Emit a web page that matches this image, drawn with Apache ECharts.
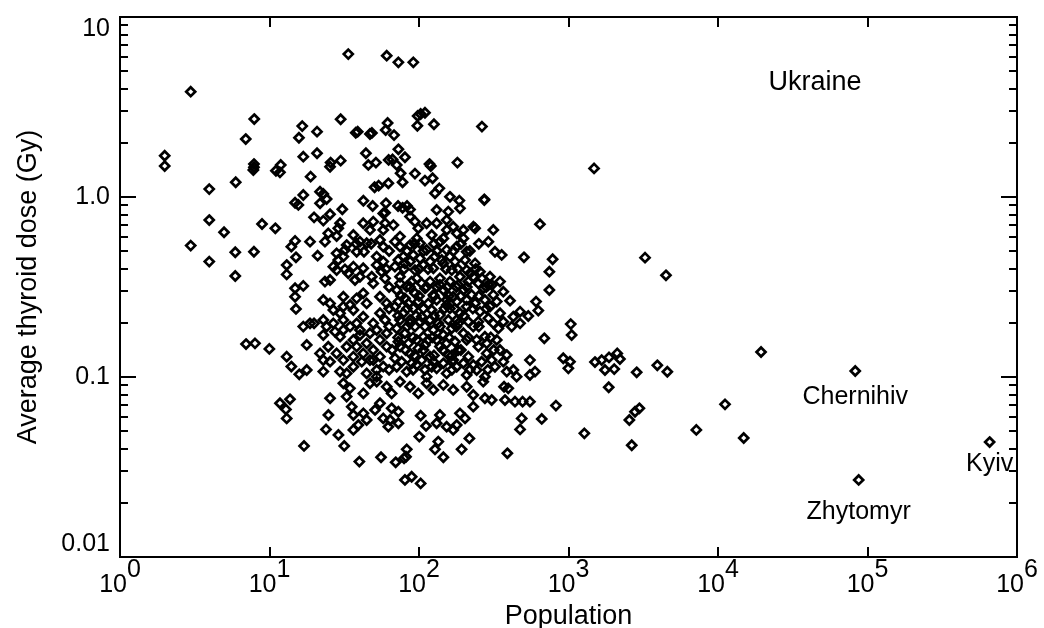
<!DOCTYPE html>
<html>
<head>
<meta charset="utf-8">
<title>Ukraine thyroid dose</title>
<script src="https://cdn.jsdelivr.net/npm/echarts@6/dist/echarts.min.js"></script>
<style>
  html, body { margin: 0; padding: 0; background: #fff; }
  #chart { width: 1044px; height: 628px; }
</style>
</head>
<body>
<div id="chart"></div>
<script>
// settlements, stored as [log10 population, log10 dose (Gy)]
var logPoints = [
  [1.527,0.794],[1.784,0.785],[0.473,0.585],[0.898,0.433],[0.841,0.322],[1.219,0.394],[1.197,0.329],[1.318,0.363],
  [1.476,0.432],[1.577,0.357],[1.590,0.363],[1.672,0.350],[1.685,0.356],[1.777,0.372],[1.790,0.411],[0.299,0.229],
  [0.299,0.172],[0.597,0.044],[0.774,0.082],[0.896,0.183],[0.896,0.165],[0.892,0.150],[1.043,0.146],[1.075,0.178],
  [1.070,0.137],[1.226,0.224],[1.318,0.243],[1.476,0.202],[1.409,0.191],[1.405,0.168],[1.645,0.243],[1.661,0.178],
  [1.712,0.191],[1.797,0.206],[1.275,0.113],[1.703,0.054],[1.730,0.063],[1.795,0.076],[1.226,0.011],[1.171,-0.032],
  [1.193,-0.044],[1.338,0.029],[1.360,0.017],[1.382,-0.011],[1.338,-0.035],[1.487,-0.068],[1.628,-0.021],[1.690,-0.050],
  [1.779,-0.035],
  [1.862,0.748],[1.962,0.748],[1.833,0.344],[1.991,0.450],[2.011,0.461],[2.040,0.468],[1.989,0.396],[2.100,0.404],
  [2.421,0.391],[1.823,0.209],[1.862,0.265],[1.906,0.221],[1.851,0.178],[1.877,0.132],[1.973,0.130],[2.070,0.183],
  [2.079,0.172],[2.257,0.191],[2.040,0.091],[2.091,0.104],[2.107,0.021],[2.136,0.048],[2.207,0.001],[2.270,-0.020],
  [2.437,-0.017],[1.890,0.082],[1.860,-0.050],[1.890,-0.060],[1.920,-0.050],[1.940,-0.070],[3.171,0.159],
  [3.512,-0.337],[3.652,-0.435],[4.288,-0.861],[3.177,-0.917],[3.222,-0.906],[3.271,-0.891],[3.326,-0.869],[3.344,-0.900],
  [3.244,-0.961],[3.306,-0.956],[3.594,-0.935],[3.661,-0.971],[3.456,-0.974],[3.269,-1.057],[3.407,-1.239],[3.445,-1.193],
  [3.474,-1.174],[3.423,-1.379],[3.106,-1.313],[3.855,-1.294],[4.047,-1.152],[4.172,-1.339],
  [0.597,-0.128],[0.473,-0.270],[0.597,-0.359],[0.696,-0.196],[0.771,-0.307],[0.771,-0.439],[0.896,-0.304],[0.950,-0.150],
  [1.039,-0.174],[0.843,-0.817],[0.903,-0.813],[0.999,-0.844],[1.115,-0.887],[1.146,-0.942],[1.199,-0.985],[1.249,-0.961],
  [1.773,-0.087],[1.298,-0.113],[1.360,-0.131],[1.405,-0.096],[1.472,-0.146],[1.460,-0.174],[1.627,-0.146],[1.694,-0.137],
  [1.672,-0.183],[1.761,-0.091],[1.773,-0.146],[1.761,-0.183],
  [1.171,-0.244],[1.146,-0.276],[1.177,-0.335],[1.271,-0.248],[1.322,-0.326],[1.371,-0.248],[1.393,-0.202],[1.449,-0.217],
  [1.115,-0.378],[1.115,-0.430],[1.449,-0.313],[1.460,-0.350],[1.505,-0.294],[1.516,-0.267],[1.561,-0.211],[1.605,-0.248],
  [1.583,-0.304],[1.632,-0.304],[1.427,-0.387],[1.449,-0.406],[1.505,-0.402],[1.405,-0.461],[1.371,-0.470],[1.171,-0.507],
  [1.226,-0.494],[1.171,-0.554],[1.177,-0.622],[1.527,-0.424],[1.572,-0.461],[1.627,-0.396],[1.684,-0.443],[1.717,-0.378],
  [1.750,-0.415],[1.773,-0.452],[1.761,-0.359],[1.627,-0.535],[1.583,-0.563],[1.494,-0.554],[1.539,-0.600],[1.360,-0.572],
  [1.405,-0.591],[1.427,-0.628],[1.472,-0.646],[1.226,-0.720],[1.271,-0.702],[1.298,-0.702],[1.360,-0.767],[1.438,-0.748],
  [1.249,-0.822],[1.338,-0.869],[1.393,-0.832],[1.360,-0.906],[1.405,-0.915],
  [1.494,-0.683],[1.539,-0.720],[1.583,-0.702],[1.627,-0.665],[1.694,-0.702],[1.739,-0.646],[1.773,-0.683],
  [1.472,-0.776],[1.516,-0.832],[1.561,-0.794],[1.605,-0.767],[1.650,-0.813],[1.694,-0.850],[1.739,-0.794],
  [1.449,-0.869],[1.494,-0.906],[1.561,-0.887],[1.617,-0.915],[1.672,-0.906],[1.739,-0.887],[1.761,-0.942],[1.717,-0.961],
  [1.650,-0.980],[1.472,-0.970],[1.516,-0.980],[1.360,-0.970],[1.761,-0.276],[1.717,-0.331],[1.739,-0.239],[1.650,-0.257],
  [1.494,-0.331],[1.561,-0.387],[1.605,-0.443],[1.694,-0.480],[1.739,-0.554],[1.784,-0.591],[1.650,-0.591],[1.561,-0.628],
  [1.494,-0.609],[1.605,-0.739],[1.672,-0.757],[1.717,-0.739],[1.784,-0.757],[1.583,-0.831],[1.627,-0.869],[1.694,-0.906],
  [1.784,-0.831],[1.427,-0.702],[1.494,-0.739],[1.561,-0.943],[1.717,-0.998],[1.360,-0.683],[1.382,-0.720],
  [2.437,-0.013],[2.809,-0.151],[2.702,-0.335],[2.894,-0.346],[2.872,-0.415],[2.872,-0.517],[2.609,-0.576],[2.783,-0.581],
  [2.798,-0.631],[3.015,-0.706],[3.021,-0.767],[2.838,-0.785],[2.731,-0.661],[2.676,-0.702],[2.965,-0.896],[3.010,-0.915],
  [2.999,-0.952],[2.742,-0.906],[2.776,-0.970],[2.631,-0.961],[2.542,-0.470],[2.487,-0.489],[2.420,-0.452],[2.363,-0.443],
  [2.319,-0.406],[2.497,-0.183],[2.464,-0.248],[2.508,-0.304],[2.553,-0.322],[2.375,-0.174],[2.297,-0.230],[2.253,-0.202],
  [2.186,-0.183],[2.118,-0.072],[2.196,-0.081],[2.274,-0.063],[1.829,-0.156],
  [1.940,-0.109],[1.973,-0.137],[1.995,-0.174],[2.051,-0.146],[2.118,-0.146],[2.185,-0.128],[2.229,-0.165],[2.297,-0.183],
  [2.364,-0.165],
  [1.839,-0.248],[1.873,-0.276],[1.940,-0.267],[2.007,-0.257],[2.051,-0.294],[2.140,-0.248],[2.185,-0.294],[2.252,-0.276],
  [2.319,-0.304],[2.207,-0.331],[2.107,-0.331],[1.962,-0.322],[1.895,-0.331],
  [1.839,-0.387],[1.906,-0.369],[1.973,-0.406],[2.029,-0.378],[2.096,-0.396],[2.163,-0.369],[2.219,-0.406],[2.274,-0.443],
  [2.341,-0.424],[2.408,-0.415],[2.475,-0.443],[1.985,-0.452],[1.873,-0.443],[2.140,-0.452],
  [1.851,-0.517],[1.918,-0.498],[1.973,-0.535],[2.040,-0.507],[2.096,-0.544],[2.163,-0.517],[2.229,-0.554],[2.297,-0.517],
  [2.352,-0.544],[2.430,-0.507],[2.497,-0.544],[2.564,-0.526],[1.906,-0.563],[2.185,-0.572],
  [1.839,-0.609],[1.895,-0.646],[1.962,-0.619],[2.018,-0.665],[2.085,-0.628],[2.140,-0.656],[2.207,-0.619],[2.274,-0.646],
  [2.319,-0.609],[2.408,-0.637],[2.475,-0.609],[2.542,-0.646],[2.631,-0.665],[2.676,-0.637],[1.940,-0.683],[2.252,-0.683],
  [1.851,-0.730],[1.906,-0.757],[1.973,-0.720],[2.029,-0.776],[2.096,-0.739],[2.163,-0.767],[2.219,-0.730],[2.297,-0.757],
  [2.363,-0.720],[2.441,-0.776],[2.497,-0.702],[2.564,-0.693],[2.620,-0.720],[2.062,-0.794],[2.319,-0.794],
  [1.873,-0.831],[1.940,-0.869],[1.995,-0.841],[2.074,-0.887],[2.140,-0.831],[2.196,-0.878],[2.263,-0.850],[2.330,-0.887],
  [2.397,-0.831],[2.453,-0.869],[2.542,-0.850],[2.587,-0.878],[1.839,-0.896],[2.229,-0.906],[2.096,-0.915],
  [1.851,-0.943],[1.918,-0.970],[1.985,-0.933],[2.051,-0.998],[2.118,-0.952],[2.185,-0.980],[2.252,-0.943],[2.319,-0.989],
  [2.386,-0.961],[2.441,-0.998],[2.508,-0.943],[2.587,-0.970],[2.653,-0.998],[2.742,-0.989],
  [1.873,-0.220],[1.985,-0.230],[2.085,-0.211],[2.163,-0.230],
  [1.862,-0.350],[1.940,-0.359],[2.007,-0.341],[2.074,-0.359],[2.152,-0.350],[2.241,-0.359],[2.308,-0.350],[2.375,-0.369],
  [1.873,-0.480],[1.951,-0.470],[2.018,-0.480],[2.074,-0.470],[2.140,-0.489],[2.207,-0.470],[2.263,-0.489],[2.330,-0.470],
  [2.397,-0.480],[2.464,-0.489],
  [1.862,-0.581],[1.929,-0.591],[1.995,-0.581],[2.062,-0.591],[2.118,-0.572],[2.185,-0.600],[2.252,-0.581],[2.319,-0.572],
  [2.375,-0.591],[2.441,-0.572],[2.520,-0.581],
  [1.873,-0.683],[1.940,-0.702],[2.007,-0.693],[2.074,-0.683],[2.129,-0.702],[2.196,-0.683],[2.263,-0.702],[2.330,-0.693],
  [2.397,-0.693],[2.464,-0.674],[2.531,-0.730],
  [1.862,-0.804],[1.929,-0.813],[1.985,-0.794],[2.040,-0.822],[2.118,-0.794],[2.185,-0.813],[2.241,-0.804],[2.386,-0.794],
  [2.453,-0.813],[2.520,-0.794],
  [1.884,-0.915],[1.951,-0.924],[2.018,-0.906],[2.085,-0.943],[2.163,-0.924],[2.219,-0.915],[2.297,-0.924],[2.363,-0.933],
  [2.419,-0.915],[2.486,-0.906],[2.564,-0.915],
  [1.405,-1.118],[1.394,-1.211],[1.378,-1.291],[1.461,-1.322],[1.500,-1.383],[1.231,-1.383],[1.516,-1.109],[1.550,-1.165],
  [1.561,-1.211],[1.594,-1.267],[1.561,-1.294],[1.628,-1.202],[1.650,-1.239],[1.706,-1.183],[1.739,-1.146],[1.761,-1.230],
  [1.795,-1.276],[1.817,-1.174],[1.862,-1.193],[1.862,-1.257],[1.806,-1.239],[1.601,-1.470],[1.746,-1.446],[1.844,-1.474],
  [1.918,-1.402],[1.913,-1.443],[1.900,-1.452],[2.002,-1.331],[2.011,-1.215],[2.047,-1.272],[2.140,-1.211],[2.129,-1.359],
  [2.107,-1.402],[2.163,-1.446],[2.118,-1.257],[2.185,-1.276],[2.229,-1.294],[2.252,-1.267],[2.274,-1.202],[2.308,-1.230],
  [2.285,-1.402],[2.337,-1.341],[1.906,-1.572],[1.951,-1.554],[2.011,-1.591],[2.363,-1.165],[2.441,-1.118],[2.486,-1.128],
  [2.575,-1.128],[2.642,-1.137],[2.693,-1.137],[2.742,-1.137],[2.569,-1.054],[2.597,-1.063],[2.687,-1.230],[2.676,-1.291],
  [2.821,-1.233],[2.916,-1.159],[2.591,-1.424],
  [1.494,-1.035],[1.538,-1.063],[1.628,-1.091],[1.672,-1.035],[1.717,-1.026],[1.784,-1.054],[1.817,-1.091],[1.873,-1.026],
  [1.940,-1.054],[1.995,-1.091],[2.051,-1.035],[2.096,-1.072],[2.163,-1.044],[2.229,-1.072],[2.319,-1.054],[2.363,-1.100],
  [2.430,-1.026],
  [1.070,-1.146],[1.137,-1.124],[1.110,-1.180],[1.115,-1.230],
  // core of the cloud, where single marks cannot be told apart
  [1.80,-0.30],[1.92,-0.30],[2.03,-0.30],[2.12,-0.30],[2.23,-0.30],[2.34,-0.30],
  [1.78,-0.40],[1.90,-0.40],[2.00,-0.40],[2.06,-0.40],[2.18,-0.40],[2.26,-0.40],[2.38,-0.40],
  [1.80,-0.50],[1.94,-0.50],[2.05,-0.50],[2.12,-0.50],[2.19,-0.50],[2.25,-0.50],[2.32,-0.50],[2.45,-0.50],
  [1.88,-0.55],[2.00,-0.55],[2.10,-0.55],[2.20,-0.55],[2.28,-0.55],[2.40,-0.55],
  [1.80,-0.62],[1.92,-0.62],[2.03,-0.62],[2.17,-0.62],[2.24,-0.62],[2.36,-0.62],[2.45,-0.62],
  [1.86,-0.66],[1.98,-0.66],[2.10,-0.66],[2.30,-0.66],
  [1.80,-0.72],[1.92,-0.72],[2.04,-0.72],[2.14,-0.72],[2.25,-0.72],[2.40,-0.72],
  [1.86,-0.78],[1.96,-0.78],[2.09,-0.78],[2.20,-0.78],[2.33,-0.78],[2.48,-0.78],
  [1.82,-0.85],[1.91,-0.85],[2.03,-0.85],[2.16,-0.85],[2.28,-0.85],[2.50,-0.85],
  [1.97,-0.88],[2.10,-0.88],[2.22,-0.88],
  [1.80,-0.96],[1.96,-0.96],[2.04,-0.96],[2.22,-0.96],[2.34,-0.96],[2.46,-0.96],
  [1.58,-0.26],[1.68,-0.26],[1.97,-0.26],[2.10,-0.26],[2.28,-0.26],[2.40,-0.26]
];

// labelled oblast centres
var townNames = ['Chernihiv', 'Zhytomyr', 'Kyiv'];
var townPop = [82800, 87300, 656000];
var townDose = [0.108, 0.0268, 0.0435];

// panel caption and where its centre sits, in data units
var panelTitle = 'Ukraine';
var panelTitleAt = [44600, 4.35];

var xTickExps = [0, 1, 2, 3, 4, 5, 6];
var yTickValues = [0.01, 0.1, 1, 10];
var yTickLabels = ['0.01', '0.1', '1.0', '10'];

var FONT = 'Liberation Sans, Arial, Helvetica, sans-serif';

var xTicks = [];
for (var i = 0; i < xTickExps.length; i++) xTicks.push(Math.pow(10, xTickExps[i]));
var yMinor = [];
for (var d = -2; d < 1; d++) {
    for (var k = 2; k <= 9; k++) yMinor.push(k * Math.pow(10, d));
}

var pts = [];
for (var i = 0; i < logPoints.length; i++) {
    pts.push([Math.pow(10, logPoints[i][0]), Math.pow(10, logPoints[i][1])]);
}
var towns = [];
var townGap = [8, 14, 4];
for (var i = 0; i < townNames.length; i++) {
    towns.push({name: townNames[i], value: [townPop[i], townDose[i]], label: {distance: townGap[i]}});
}

var tickStyle = {color: '#000', width: 2};
var markStyle = {color: 'rgba(0,0,0,0)', borderColor: '#000', borderWidth: 2.7, opacity: 1};

function xAxisDef(pos) {
    var top = pos === 'top';
    return {
        type: 'log', logBase: 10, min: 1, max: 1e6, position: pos,
        axisLine: {show: false},
        splitLine: {show: false},
        axisTick: {show: true, inside: true, length: 10, lineStyle: tickStyle, customValues: xTicks},
        axisLabel: {
            show: !top, customValues: xTicks, margin: 1,
            formatter: function (v) {
                return '{b|10}{s|' + Math.round(Math.log10(v)) + '}';
            },
            rich: {
                b: {fontSize: 25, fontFamily: FONT, color: '#000', padding: [15, 0, 0, 0]},
                s: {fontSize: 25, fontFamily: FONT, color: '#000', padding: [0, 0, 15, 0]}
            }
        },
        name: top ? '' : 'Population',
        nameLocation: 'middle', nameGap: 44,
        nameTextStyle: {fontSize: 27, fontFamily: FONT, color: '#000'}
    };
}

function yAxisDef(pos, major, withLabels) {
    return {
        type: 'log', logBase: 10, min: 0.01, max: 10, position: pos,
        axisLine: {show: false},
        splitLine: {show: false},
        axisTick: {show: true, inside: true, length: major ? 16 : 8, lineStyle: tickStyle,
            customValues: major ? yTickValues : yMinor},
        axisLabel: {
            show: withLabels, customValues: yTickValues, margin: 10,
            fontSize: 25, fontFamily: FONT, color: '#000',
            verticalAlignMinLabel: 'bottom', verticalAlignMaxLabel: 'top',
            formatter: function (v) {
                var idx = Math.round(Math.log10(v)) + 2;
                return yTickLabels[idx];
            }
        },
        name: withLabels ? 'Average thyroid dose (Gy)' : '',
        nameLocation: 'middle', nameGap: 78, nameRotate: 90,
        nameTextStyle: {fontSize: 27, fontFamily: FONT, color: '#000'}
    };
}

var chart = echarts.init(document.getElementById('chart'), null, {renderer: 'canvas'});
chart.setOption({
    animation: false,
    backgroundColor: '#fff',
    textStyle: {fontFamily: FONT},
    grid: {
        left: 120, right: 27, top: 17, bottom: 71,
        show: true, borderColor: '#000', borderWidth: 2,
        containLabel: false, outerBoundsMode: 'none'
    },
    xAxis: [xAxisDef('bottom'), xAxisDef('top')],
    yAxis: [
        yAxisDef('left', true, true),
        yAxisDef('left', false, false),
        yAxisDef('right', true, false),
        yAxisDef('right', false, false)
    ],
    series: [
        {
            name: 'settlements', type: 'scatter', xAxisIndex: 0, yAxisIndex: 0,
            symbol: 'diamond', symbolSize: 9, silent: true,
            itemStyle: markStyle,
            data: pts
        },
        {
            name: 'towns', type: 'scatter', xAxisIndex: 0, yAxisIndex: 0,
            symbol: 'diamond', symbolSize: 9, silent: true,
            itemStyle: markStyle,
            label: {show: true, position: 'bottom', formatter: '{b}', fontSize: 25, fontFamily: FONT, color: '#000'},
            data: towns
        }
    ]
});

// caption placed through the axes
var at = chart.convertToPixel({xAxisIndex: 0, yAxisIndex: 0}, panelTitleAt);
chart.setOption({
    graphic: [{
        type: 'text', x: at[0], y: at[1], silent: true,
        style: {text: panelTitle, fill: '#000', fontSize: 27, fontFamily: FONT, align: 'center', verticalAlign: 'middle'}
    }]
});
</script>
</body>
</html>
